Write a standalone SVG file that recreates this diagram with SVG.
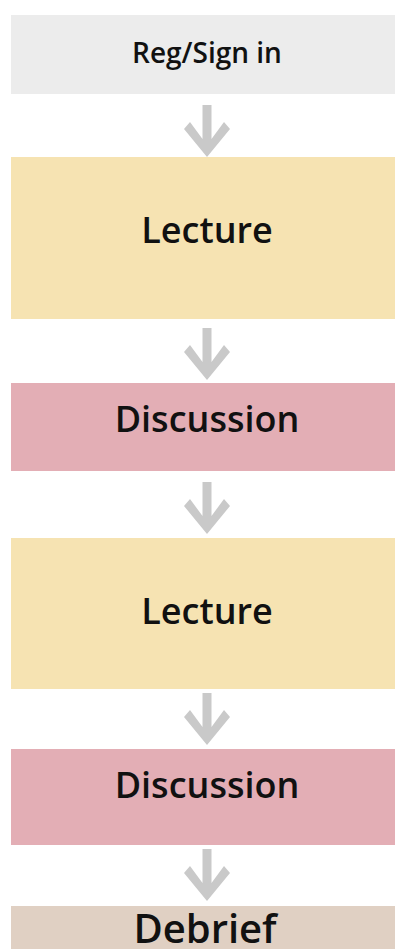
<svg xmlns="http://www.w3.org/2000/svg" width="395" height="949" viewBox="0 0 395 949">
<defs>
<style>
.lbl{font-family:"Open Sans","Noto Sans","Liberation Sans",sans-serif;font-weight:600;fill:#111;text-anchor:middle}
.gray{fill:#ececec}
.yel{fill:#f6e3b2}
.pink{fill:#e3aeb5}
.tan{fill:#e0d0c3}
.arr{fill:#c9c9c9}
</style>
<polygon id="arrow" points="-4.5,0 4.5,0 4.5,34 17,17 23,24 0,52 -23,24 -17,17 -4.5,34"/>
</defs>
<rect width="395" height="949" fill="#ffffff"/>
<g id="connectors">
<use href="#arrow" class="arr" x="207" y="105"/>
<use href="#arrow" class="arr" x="207" y="328"/>
<use href="#arrow" class="arr" x="207" y="482"/>
<use href="#arrow" class="arr" x="207" y="693"/>
<use href="#arrow" class="arr" x="207" y="849"/>
</g>
<g id="reg">
<rect class="gray" x="11" y="15" width="384" height="79"/>
<text class="lbl" x="207" y="63" font-size="28">Reg/Sign in</text>
</g>
<g id="lecture1">
<rect class="yel" x="11" y="157" width="384" height="162"/>
<text class="lbl" x="207" y="243" font-size="36">Lecture</text>
</g>
<g id="discussion1">
<rect class="pink" x="11" y="383" width="384" height="88"/>
<text class="lbl" x="207" y="432" font-size="36">Discussion</text>
</g>
<g id="lecture2">
<rect class="yel" x="11" y="538" width="384" height="151"/>
<text class="lbl" x="207" y="624" font-size="36">Lecture</text>
</g>
<g id="discussion2">
<rect class="pink" x="11" y="749" width="384" height="96"/>
<text class="lbl" x="207" y="798" font-size="36">Discussion</text>
</g>
<g id="debrief">
<rect class="tan" x="11" y="906" width="384" height="43"/>
<text class="lbl" x="205" y="943" font-size="40">Debrief</text>
</g>
</svg>
